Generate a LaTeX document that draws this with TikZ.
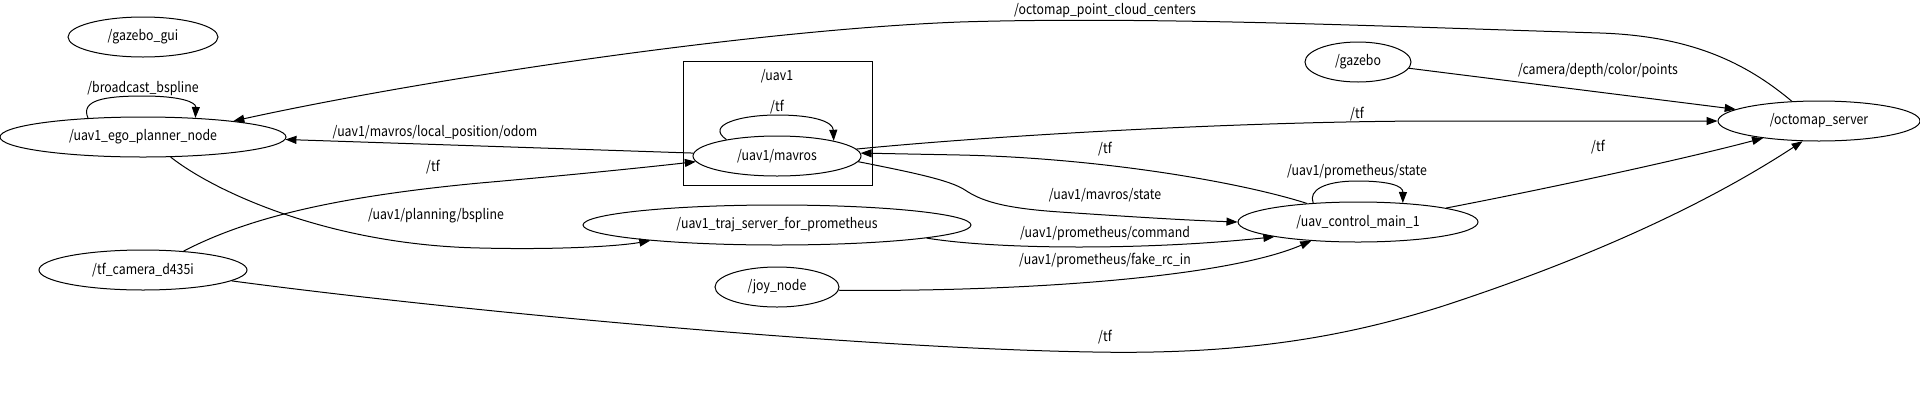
\documentclass[tikz,border=0pt]{standalone}
\usepackage{fontspec}
\setmainfont[FakeStretch=0.88]{Noto Sans CJK SC}
\usetikzlibrary{shapes.geometric,arrows.meta}
\tikzset{
  rosnode/.style={draw,ellipse,inner sep=0pt,line width=1pt,font=\fontsize{14}{16}\selectfont},
  lbl/.style={inner sep=0pt,font=\fontsize{14}{16}\selectfont},
  edge/.style={line width=1pt,-{Triangle[length=11pt,width=8pt]}},
  plainedge/.style={line width=1pt}
}
\begin{document}
\begin{tikzpicture}[x=1pt,y=-1pt]
\useasboundingbox[fill=white] (0,0) rectangle (1920,416);
% cluster
\node[draw,line width=1pt,minimum width=189pt,minimum height=124pt,inner sep=0pt] (uavbox) at (777.5,123) {};
\node[lbl] (uavboxlbl) at (777,76) {/uav1};
% nodes
\node[rosnode,minimum width=150pt,minimum height=40pt] (gui) at (143,37) {/gazebo\_gui};
\node[rosnode,minimum width=286pt,minimum height=40pt] (ego) at (143,137) {/uav1\_ego\_planner\_node};
\node[rosnode,minimum width=208pt,minimum height=40pt] (tfcam) at (143,270) {/tf\_camera\_d435i};
\node[rosnode,minimum width=168pt,minimum height=40pt] (mavros) at (777,156) {/uav1/mavros};
\node[rosnode,minimum width=388pt,minimum height=40pt] (traj) at (777,225) {/uav1\_traj\_server\_for\_prometheus};
\node[rosnode,minimum width=124pt,minimum height=40pt] (joy) at (777,287) {/joy\_node};
\node[rosnode,minimum width=106pt,minimum height=40pt] (gazebo) at (1358,62) {/gazebo};
\node[rosnode,minimum width=240pt,minimum height=40pt] (uavc) at (1358,222) {/uav\_control\_main\_1};
\node[rosnode,minimum width=202pt,minimum height=40pt] (octo) at (1819,121) {/octomap\_server};
% edges
\draw[edge] (ego.161) .. controls (80,100) and (105,96) .. (143,96) .. controls (180,96) and (196,102) .. (ego.20);
\node[lbl] (l1) at (143,89) {/broadcast\_bspline};

\draw[edge] (octo.144) .. controls (1745,62) and (1690,36) .. (1600,33) .. controls (1400,27) and (1150,16) .. (960,22) .. controls (750,30) and (420,80) .. (ego.10);
\node[lbl] (l2) at (1105,11) {/octomap\_point\_cloud\_centers};

\draw[edge] (mavros.178) -- (ego.-1);
\node[lbl] (l3) at (435,133) {/uav1/mavros/local\_position/odom};

\draw[edge] (tfcam.25) .. controls (240,222) and (320,198) .. (480,183) .. controls (560,176) and (640,168) .. (mavros.184);
\node[lbl] (l4) at (433,167) {/tf};

\draw[edge] (ego.-36) .. controls (215,192) and (330,245) .. (480,248) .. controls (560,250) and (620,246) .. (traj.187);
\node[lbl] (l5) at (436,216) {/uav1/planning/bspline};

\draw[edge] (tfcam.-7) .. controls (450,310) and (850,348) .. (1093,352) .. controls (1250,355) and (1350,335) .. (1440,307) .. controls (1560,268) and (1690,215) .. (octo.231);
\node[lbl] (l6) at (1105,337) {/tf};

\draw[edge] (mavros.5) .. controls (1000,135) and (1250,121) .. (1440,121) -- (octo.180);
\node[lbl] (l7) at (1357,114) {/tf};

\draw[edge] (uavc.160) .. controls (1240,182) and (1100,158) .. (960,155) -- (mavros.2);
\node[lbl] (l8) at (1105,149) {/tf};

\draw[edge] (mavros.-4) .. controls (910,172) and (950,180) .. (965,190) .. controls (980,200) and (1000,208) .. (1060,212) .. controls (1120,216) and (1180,220) .. (uavc.180);
\node[lbl] (l9) at (1105,195) {/uav1/mavros/state};

\draw[edge] (uavc.157) .. controls (1308,190) and (1325,181) .. (1357,181) .. controls (1390,181) and (1403,186) .. (uavc.23);
\node[lbl] (l10) at (1357,172) {/uav1/prometheus/state};

\draw[edge] (uavc.9) .. controls (1550,188) and (1680,160) .. (octo.197);
\node[lbl] (l11) at (1598,147) {/tf};

\draw[edge] (gazebo.-7) -- (octo.172);
\node[lbl] (l12) at (1598,71) {/camera/depth/color/points};

\draw[edge] (traj.-5) .. controls (1000,250) and (1150,250) .. (uavc.190);
\node[lbl] (l13) at (1105,234) {/uav1/prometheus/command};

\draw[edge] (joy.-3) .. controls (1000,292) and (1220,280) .. (uavc.202);
\node[lbl] (l14) at (1105,260) {/uav1/prometheus/fake\_rc\_in};

\draw[edge] (mavros.162) .. controls (705,125) and (740,115) .. (777,115) .. controls (815,115) and (833,122) .. (mavros.15);
\node[lbl] (l15) at (777,107) {/tf};
\end{tikzpicture}
\end{document}
